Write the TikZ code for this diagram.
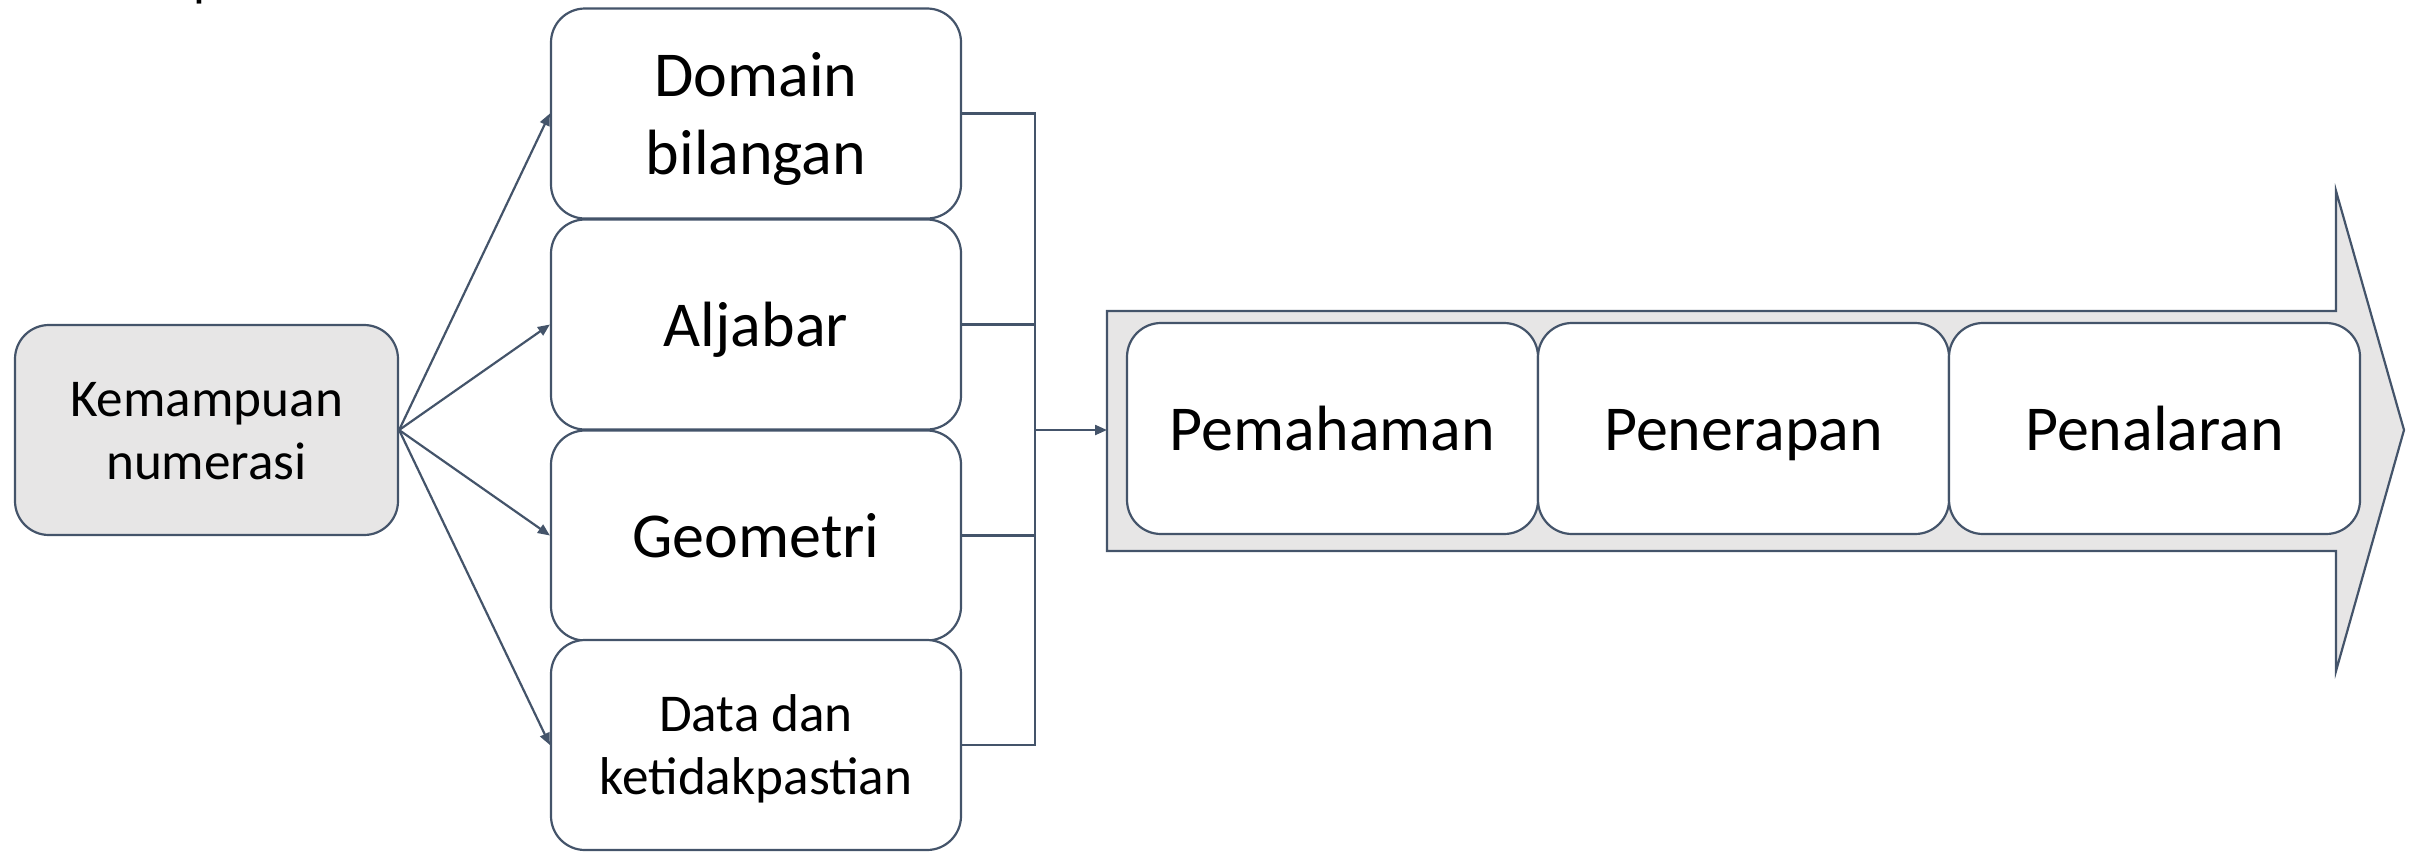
\documentclass[tikz,border=0pt]{standalone}
\usepackage{fontspec}
\setmainfont{Carlito}
\usetikzlibrary{arrows.meta}
\definecolor{lc}{HTML}{44546A}
\definecolor{gf}{HTML}{E7E6E6}
\newcommand\ostrut{\rule[-0.269em]{0pt}{1.221em}}
\newcommand\bigfont{\fontsize{32}{38.7}\selectfont\lineskip0pt\lineskiplimit-20pt\relax}
\newcommand\smallfont{\fontsize{26.6}{31.5}\selectfont\lineskip0pt\lineskiplimit-20pt\relax}
\tikzset{
  ln/.style={draw=lc, line width=1.1pt},
  arr/.style={ln, -{Triangle[length=6pt,width=5pt]}},
  rbox/.style={ln, rounded corners=17pt, inner sep=0pt, align=center},
  colbox/.style={rbox, fill=white, minimum width=205pt, minimum height=105pt},
  stagebox/.style={rbox, fill=white, minimum width=205.5pt, minimum height=105.5pt, bigtxt},
  bigtxt/.style={font=\bigfont},
  smalltxt/.style={font=\smallfont},
}
\begin{document}
\begin{tikzpicture}[x=0.5pt,y=-0.5pt]
\useasboundingbox (0,0) rectangle (2412,851);
% clipped text fragment at top
\node[anchor=base west, inner sep=0pt, smalltxt] (frag) at (193,-4) {p};
% source box
\node[rbox, fill=gf, minimum width=191.5pt, minimum height=105pt, smalltxt] (kem) at (206.5,430) {\ostrut Kemampuan\\\ostrut numerasi};
% column boxes
\node[colbox, bigtxt] (dom) at (756,113.5) {\ostrut Domain\\\ostrut bilangan};
\node[colbox, bigtxt] (alj) at (756,324.5) {\ostrut Aljabar};
\node[colbox, bigtxt] (geo) at (756,535.5) {\ostrut Geometri};
\node[colbox, smalltxt] (dat) at (756,745) {\ostrut Data dan\\\ostrut ketidakpastian};
% arrows from source
\draw[arr] (kem.east) -- (dom.west);
\draw[arr] (kem.east) -- (alj.west);
\draw[arr] (kem.east) -- (geo.west);
\draw[arr] (kem.east) -- (dat.west);
% bracket
\coordinate (jn) at (1035,430);
\coordinate (ba) at (1107,430);
\draw[ln] (dom.east) -| (jn);
\draw[ln] (alj.east) -| (jn);
\draw[ln] (geo.east) -| (jn);
\draw[ln] (dat.east) -| (jn);
\draw[arr] (jn) -- (ba);
% big arrow
\draw[ln, fill=gf, line join=miter] (1107,311) -- (2336,311) -- (2336,191) -- (2404,430)
  -- (2336,671) -- (2336,551) -- (1107,551) -- cycle;
% stages
\node[stagebox] (pem) at (1332.5,428.5) {\ostrut Pemahaman};
\node[stagebox] (pen) at (1743.5,428.5) {\ostrut Penerapan};
\node[stagebox] (pnl) at (2154.5,428.5) {\ostrut Penalaran};
\end{tikzpicture}
\end{document}
